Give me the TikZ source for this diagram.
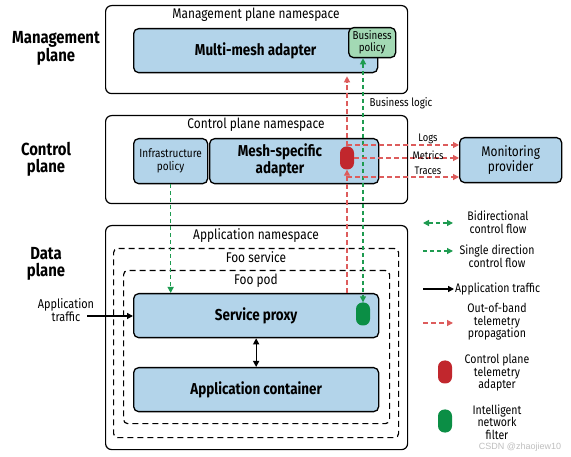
\documentclass[tikz,border=0pt]{standalone}
\usepackage{fontspec}
\setmainfont[FakeStretch=0.85]{Fira Sans}
\newfontfamily\wmfont{Liberation Sans}
\usetikzlibrary{arrows.meta}
\definecolor{boxblue}{HTML}{B3D4EA}
\definecolor{policygreen}{HTML}{A3D9B4}
\definecolor{pillred}{HTML}{C1272D}
\definecolor{pillgreen}{HTML}{0B8E45}
\definecolor{dashgreen}{HTML}{1E9B50}
\definecolor{dashred}{HTML}{DD5C5C}
\begin{document}
\begin{tikzpicture}[x=1pt,y=-1pt,
  >={Triangle[length=6pt,width=6pt]},
  ns/.style={draw, line width=1.2pt, rounded corners=6pt, anchor=north west, inner sep=0pt},
  bluebox/.style={draw, line width=1.3pt, rounded corners=5pt, fill=boxblue, anchor=north west, inner sep=0pt, align=center},
  greenbox/.style={draw, line width=1.3pt, rounded corners=5pt, fill=policygreen, anchor=north west, inner sep=0pt, align=center, font=\fontsize{11.5}{12}\selectfont},
  dbox/.style={draw, line width=1.2pt, dash pattern=on 6pt off 4pt, rounded corners=4pt, anchor=north west, inner sep=0pt},
  title/.style={font=\fontsize{14}{15}\selectfont, inner sep=0pt},
  bigfont/.style={font=\fontsize{15.8}{17}\selectfont\bfseries},
  bigtxt/.style={bigfont, align=center, inner sep=0pt},
  smalltxt/.style={font=\fontsize{11}{12}\selectfont, align=center, inner sep=0pt},
  sidetxt/.style={font=\fontsize{17.5}{17}\selectfont\bfseries, align=center, inner sep=0pt},
  legtxt/.style={font=\fontsize{12.4}{12.5}\selectfont, align=center, inner sep=0pt},
  gdash/.style={draw=dashgreen, line width=1.2pt, dash pattern=on 4pt off 3pt},
  rdash/.style={draw=dashred, line width=1.2pt, dash pattern=on 5pt off 3pt},
  pill/.style={draw=none, rounded corners=6.5pt, minimum width=14pt, minimum height=23pt, inner sep=0pt}
]
\useasboundingbox (0,0) rectangle (571,457);
\fill[white] (0,0) rectangle (571,457);

% side labels
\node[sidetxt] (lmp) at (56,48) {Management\\plane};
\node[sidetxt] (lcp) at (46,159) {Control\\plane};
\node[sidetxt] (ldp) at (46,264) {Data\\plane};

% management plane
\node[ns, minimum width=302pt, minimum height=88pt] (mns) at (105,5) {};
\node[title] (mnst) at (256,15) {Management plane namespace};
\node[bluebox, bigfont, minimum width=244pt, minimum height=44pt] (mma) at (133,28) {Multi-mesh adapter};
\node[greenbox, minimum width=47pt, minimum height=30pt] (bp) at (348,27) {Business\\policy};

% control plane
\node[ns, minimum width=302pt, minimum height=88pt] (cns) at (105,115) {};
\node[title] (cnst) at (256,125) {Control plane namespace};
\node[bluebox, minimum width=74pt, minimum height=45pt, font=\fontsize{11.8}{13}\selectfont] (ip) at (133,138) {Infrastructure\\policy};
\node[bluebox, minimum width=169pt, minimum height=45pt] (msa) at (209,138) {};
\node[bigtxt] (msat) at (280,160) {Mesh-specific\\adapter};
\node[pill, fill=pillred] (rp) at (347,158) {};
\node[bluebox, minimum width=102pt, minimum height=45pt, font=\fontsize{14}{15}\selectfont] (mp) at (459,137) {Monitoring\\provider};

% data plane
\node[ns, minimum width=302pt, minimum height=224pt] (ans) at (105,225) {};
\node[title] (anst) at (256,236) {Application namespace};
\node[dbox, minimum width=285pt, minimum height=189pt] (fs) at (113,248) {};
\node[title] (fst) at (256,257) {Foo service};
\node[dbox, minimum width=266pt, minimum height=153pt] (fp) at (123,270) {};
\node[title] (fpt) at (256,281) {Foo pod};
\node[bluebox, bigfont, minimum width=245pt, minimum height=44pt] (sp) at (133,293) {Service proxy};
\node[bluebox, bigfont, minimum width=245pt, minimum height=44pt] (ac) at (133,367) {Application container};
\node[pill, fill=pillgreen] (gp) at (363,314) {};

% application traffic
\node[font=\fontsize{12.8}{12}\selectfont, align=center, inner sep=0pt] (atl) at (66,310) {Application\\traffic};
\coordinate (ats) at (87,316);
\draw[line width=1.3pt, ->] (ats) -- (ats -| sp.west);
\draw[line width=1.3pt, <->] (sp.south) -- (ac.north);

% control flows
\draw[gdash, ->] (ip.south) -- (sp.north -| ip.south);
\draw[gdash, <->] (bp.south -| gp.north) -- (gp.north);

% telemetry
\draw[rdash, ->] (sp.north -| rp.south) -- (rp.south);
\draw[rdash, ->, shorten >=3pt] (rp.north) -- (mma.south -| rp.north);
\coordinate (lgs) at (347,145);
\coordinate (trs) at (347,177);
\draw[rdash, ->] (lgs) -- (lgs -| mp.west);
\draw[rdash, ->] (rp.east) -- (rp.east -| mp.west);
\draw[rdash, ->] (trs) -- (trs -| mp.west);
\node[smalltxt] (lgl) at (428,139) {Logs};
\node[smalltxt] (mtl) at (428,155) {Metrics};
\node[smalltxt] (trl) at (428,171) {Traces};
\node[smalltxt, font=\fontsize{11.5}{12}\selectfont] (bll) at (401,103) {Business logic};

% legend
\coordinate (l1a) at (423,223); \coordinate (l1b) at (453,223);
\draw[gdash, <->] (l1a) -- (l1b);
\node[legtxt] (l1t) at (498,222) {Bidirectional\\control flow};
\coordinate (l2a) at (423,251); \coordinate (l2b) at (453,251);
\draw[gdash, ->] (l2a) -- (l2b);
\node[legtxt] (l2t) at (497,256) {Single direction\\control flow};
\coordinate (l3a) at (423,289); \coordinate (l3b) at (454,289);
\draw[line width=1.3pt, ->] (l3a) -- (l3b);
\node[legtxt, anchor=west] (l3t) at (455,289) {Application traffic};
\coordinate (l4a) at (423,323); \coordinate (l4b) at (453,323);
\draw[rdash, ->] (l4a) -- (l4b);
\node[legtxt] (l4t) at (497,322) {Out-of-band\\telemetry\\propagation};
\node[pill, fill=pillred] (l5p) at (445,372) {};
\node[legtxt] (l5t) at (497,373) {Control plane\\telemetry\\adapter};
\node[pill, fill=pillgreen] (l6p) at (445,421) {};
\node[legtxt] (l6t) at (497,422) {Intelligent\\network\\filter};

\node[font=\wmfont\fontsize{9}{10}\selectfont, text=black!25, inner sep=0pt] (wm) at (520,447) {CSDN @zhaojiew10};
\end{tikzpicture}
\end{document}
